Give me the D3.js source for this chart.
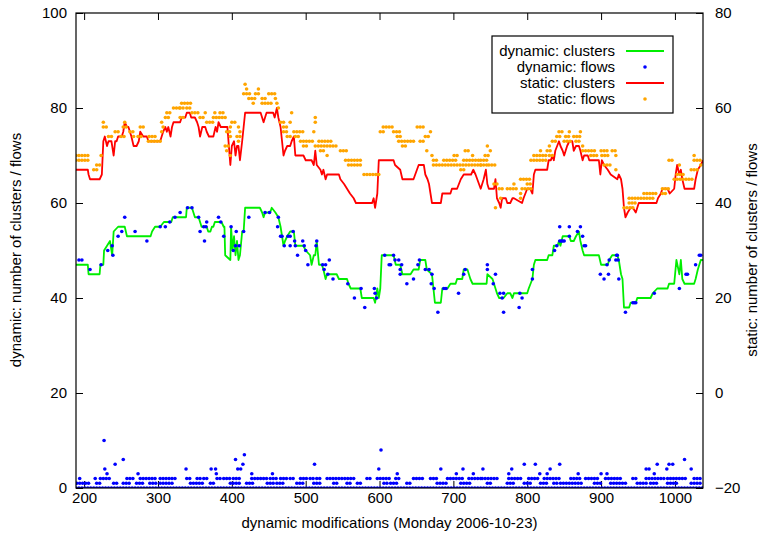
<!DOCTYPE html>
<html>
<head>
<meta charset="utf-8">
<script src="https://cdn.jsdelivr.net/npm/d3@7"></script>
<style>
  body { margin: 0; background: #fff; }
  text { font-family: "Liberation Sans", Arial, sans-serif; font-size: 15px; fill: #000; }
</style>
</head>
<body>
<div id="chart"></div>
<script>
/* Clusters and flows over the dynamic modifications of one day, gnuplot look. */

const xTicks = [200, 300, 400, 500, 600, 700, 800, 900, 1000];
const yTicks = [0, 20, 40, 60, 80, 100];
const y2Ticks = [-20, 0, 20, 40, 60, 80];

// dynamic clusters, [modification, clusters] (left axis)
const dynClusters = [
  [189,47],[205,47],[206,45],[221,45],[222,47],[226,47],[227,50],[231,51],[235,52],[238,49],[240,54],
  [246,55],[255,55],[258,53],[290,53],[292,54],[296,55],[303,55],[308,56],[318,56],[320,57],[338,57],
  [339,59],[346,59],[348,58],[350,57],[355,57],[357,56],[359,55],[366,55],[368,54],[371,54],[373,55],
  [375,55],[377,56],[386,56],[389,55],[390,55],[391,49],[398,48],[399,55],[401,50],[403,53],[405,49],
  [407,52],[409,48],[411,49],[414,54],[416,54],[418,59],[438,59],[441,58],[443,57],[445,58],[452,58],
  [454,59],[459,58],[463,57],[466,55],[468,53],[470,51],[472,52],[475,53],[479,54],[484,54],[486,51],
  [488,51],[497,51],[500,50],[506,49],[508,47],[511,49],[513,49],[515,52],[518,47],[522,47],[524,46],
  [527,44],[529,45],[531,45],[542,45],[545,44],[547,44],[556,44],[558,43],[561,42],[574,42],[576,40],
  [592,40],[594,39],[597,42],[599,40],[601,42],[603,49],[619,49],[622,47],[628,47],[631,45],[642,45],
  [646,46],[653,46],[655,48],[662,48],[664,46],[671,45],[673,42],[675,39],[683,39],[685,42],[692,42],
  [696,43],[703,43],[705,44],[712,44],[714,46],[719,46],[723,44],[726,43],[745,43],[746,45],[753,44],
  [755,43],[759,41],[762,40],[768,40],[773,41],[777,41],[780,40],[782,41],[800,41],[802,42],[807,44],
  [809,47],[811,48],[827,48],[829,49],[834,49],[836,51],[841,51],[843,52],[845,51],[848,53],[857,53],
  [859,52],[863,52],[866,53],[870,54],[872,52],[875,50],[877,49],[897,49],[900,47],[909,47],[911,48],
  [915,49],[922,49],[924,48],[927,45],[929,44],[931,38],[938,38],[940,39],[947,39],[949,40],[967,40],
  [970,41],[976,42],[990,42],[992,43],[999,43],[1002,48],[1006,45],[1008,48],[1010,44],[1013,43],
  [1026,43],[1028,44],[1031,46],[1035,48],[1038,48]
];

// dynamic flows lying near the cluster curve, [modification, flows]
const dynFlowsHigh = [
  [193,48],[197,48],[208,46],[223,47],[232,50],[238,51],[239,49],[246,53],[251,54],[255,57],[269,54],
  [285,52],[303,55],[310,55],[316,56],[323,57],[330,58],[340,59],[346,59],[355,57],[357,54],[362,55],
  [365,55],[366,56],[363,52],[382,57],[385,56],[389,53],[399,55],[402,50],[405,51],[406,54],[410,51],
  [416,54],[423,57],[445,58],[451,58],[463,57],[462,55],[466,53],[468,53],[471,51],[476,53],[479,53],
  [483,54],[485,52],[486,51],[479,51],[489,49],[496,52],[498,51],[500,50],[503,47],[514,51],[515,52],
  [523,47],[525,46],[527,47],[532,48],[530,45],[537,44],[557,43],[566,40],[575,42],[580,38],[593,42],
  [594,41],[596,40],[607,49],[613,47],[615,47],[619,49],[621,48],[626,48],[628,46],[630,47],[628,45],
  [637,43],[646,44],[652,47],[654,48],[662,46],[667,46],[670,43],[671,45],[674,42],[679,37],[687,42],
  [690,42],[707,41],[714,45],[716,46],[746,47],[746,46],[757,45],[754,43],[763,41],[766,40],[768,41],
  [768,37],[789,38],[790,41],[793,40],[807,44],[807,46],[837,50],[840,51],[844,52],[846,52],[848,52],
  [850,52],[844,55],[857,53],[857,55],[868,54],[872,55],[875,53],[877,51],[879,51],[899,45],[904,44],
  [908,47],[910,45],[911,48],[920,48],[921,49],[922,49],[923,48],[924,44],[943,39],[945,39],[947,39],
  [933,37],[972,41],[1006,42],[1015,45],[1017,45],[1028,47],[1033,49],[1035,49]
];

// dynamic flows near the bottom: runs [from, to, flows] sampled every 4 modifications
const dynFlowRuns = [
  [189,1037,0],
  [190,208,1],[217,222,1],[240,244,1],[253,262,1],[271,280,1],[289,298,1],[303,321,1],[344,362,1],
  [371,375,1],[398,411,1],[420,429,1],[448,457,1],[461,470,1],[488,497,1],[511,520,1],[538,543,1],
  [556,561,1],[570,574,1],[606,610,1],[615,624,1],[637,642,1],[678,692,1],[710,723,1],[746,750,1],
  [773,782,1],[796,805,1],[818,827,1],[836,841,1],[845,873,1],[891,900,1],[913,936,1],[949,963,1],
  [967,976,1],[990,1003,1],[1022,1035,1],
  [194,194,2],[215,215,2],[222,235,2],[258,267,2],[276,298,2],[303,326,2],[339,344,2],[353,357,2],
  [362,366,2],[380,384,2],[389,398,2],[402,411,2],[427,448,2],[452,461,2],[466,475,2],[479,484,2],
  [493,502,2],[506,511,2],[515,520,2],[529,565,2],[583,590,2],[597,615,2],[622,628,2],[646,660,2],
  [669,678,2],[692,712,2],[721,737,2],[739,762,2],[775,791,2],[802,816,2],[823,845,2],[859,873,2],
  [879,895,2],[906,918,2],[922,929,2],[943,949,2],[961,985,2],[990,1015,2],[1026,1037,2]
];

// isolated larger dynamic flow counts near the bottom
const dynFlowsPeaks = [
  [227,10],[228,4],[231,3],[242,5],[253,6],[273,3],[338,4],[372,4],[378,4],[379,3],[405,6],[408,4],
  [412,4],[415,5],[417,7],[427,3],[455,3],[512,5],[599,4],[602,8],[624,3],[683,4],[704,3],[713,4],
  [727,3],[740,4],[775,3],[779,4],[796,5],[811,5],[817,3],[827,3],[831,4],[844,5],[869,3],[900,3],
  [908,3],[961,4],[965,4],[972,3],[976,5],[989,4],[992,5],[997,5],[1013,6],[1022,4]
];

// static clusters, [modification, clusters] (right axis)
const statClusters = [
  [189,47],[205,47],[206,46],[208,45],[221,45],[224,46],[226,53],[228,54],[231,52],[233,53],[237,53],
  [240,50],[242,53],[244,53],[246,54],[251,54],[253,55],[255,57],[258,56],[260,56],[264,54],[267,52],
  [271,52],[274,53],[276,55],[280,54],[285,54],[287,53],[303,53],[305,54],[307,55],[310,56],[312,55],
  [314,56],[317,54],[319,56],[321,57],[330,57],[332,58],[337,58],[339,59],[343,59],[345,58],[350,58],
  [353,57],[355,56],[357,54],[360,56],[364,56],[366,55],[369,54],[375,54],[378,56],[380,55],[382,57],
  [385,56],[394,56],[396,52],[398,48],[400,52],[403,53],[405,50],[407,52],[409,52],[411,49],[414,53],
  [416,56],[418,59],[439,59],[441,58],[443,57],[445,58],[447,59],[456,59],[458,58],[461,60],[463,58],
  [466,56],[468,53],[470,50],[472,51],[475,52],[479,52],[481,53],[484,54],[486,50],[488,50],[497,50],
  [500,49],[508,49],[511,48],[513,51],[515,48],[520,47],[522,46],[524,47],[527,45],[529,46],[531,46],
  [545,46],[547,45],[552,44],[556,43],[560,42],[565,41],[568,40],[590,40],[592,41],[594,39],[597,42],
  [599,49],[619,49],[621,48],[628,47],[631,45],[646,45],[653,48],[660,48],[662,46],[665,45],[667,44],
  [669,42],[671,40],[683,40],[685,42],[696,42],[698,43],[705,43],[710,45],[714,46],[724,46],[727,47],
  [730,46],[737,43],[741,45],[744,47],[746,44],[748,43],[755,43],[757,45],[759,41],[762,40],[764,39],
  [766,41],[771,41],[773,40],[777,40],[780,41],[782,41],[793,40],[795,41],[800,43],[804,43],[807,42],
  [809,46],[811,47],[827,47],[829,49],[832,49],[834,50],[836,49],[838,51],[843,53],[845,52],[848,51],
  [850,50],[854,52],[857,53],[861,53],[863,51],[866,52],[870,52],[872,51],[875,49],[877,50],[882,50],
  [884,49],[887,49],[897,49],[899,46],[901,49],[904,48],[909,47],[913,46],[922,45],[924,46],[927,45],
  [929,43],[931,39],[933,37],[936,38],[940,39],[943,39],[947,38],[949,39],[951,40],[975,40],[977,41],
  [981,42],[983,43],[990,43],[993,42],[999,43],[1001,46],[1003,48],[1006,46],[1008,47],[1010,45],
  [1013,43],[1026,43],[1028,45],[1031,47],[1035,48],[1038,49]
];

// static flows: runs [from, to, flows] sampled every 4 modifications (right axis)
const statFlowRuns = [
  [189,208,50],[223,224,50],[189,197,49],[201,208,49],[217,224,48],[213,217,47],
  [226,226,57],[255,255,57],[305,307,57],[226,232,56],[253,258,56],[276,282,56],[307,307,56],
  [242,248,55],[262,266,55],[305,305,55],[233,240,54],[250,255,54],[267,269,54],[273,278,54],
  [288,296,54],[287,303,53],[310,314,58],[312,316,59],[321,330,60],
  [332,346,61],[330,335,60],[339,346,60],[346,357,59],[364,366,59],[377,380,59],[384,389,59],
  [330,335,58],[357,362,58],[375,391,58],[366,377,57],[400,405,57],[398,398,56],[409,409,56],
  [393,398,55],[411,414,55],[398,398,54],[407,411,54],[409,409,53],[391,398,52],[393,393,51],
  [398,398,50],[418,418,65],[420,420,64],[436,438,64],[416,427,63],[432,438,63],[450,459,63],
  [423,432,62],[441,447,62],[459,459,62],[429,432,61],[441,454,61],[461,461,61],[463,466,60],
  [481,484,59],[513,515,58],[466,470,57],[479,479,57],[513,513,57],[470,475,56],[470,477,55],
  [484,497,55],[511,511,55],[475,479,54],[486,490,54],[493,511,53],[518,536,53],[497,502,52],
  [513,542,52],[520,524,51],[547,556,51],[529,529,50],[554,576,49],[558,576,48],[579,601,46],
  [605,619,56],[651,660,56],[601,606,55],[619,628,55],[669,669,55],[624,631,54],[662,667,54],
  [626,646,53],[655,662,53],[631,637,52],[664,664,51],[716,721,51],[671,671,50],[701,705,50],
  [726,726,50],[673,678,49],[687,705,49],[714,737,49],[673,737,48],[710,714,47],
  [737,746,49],[805,827,49],[737,746,48],[748,759,48],[904,915,48],[1035,1035,48],[743,748,50],
  [809,827,50],[830,834,50],[886,897,50],[901,909,50],[920,920,50],[1026,1026,50],[746,746,52],
  [830,830,52],[875,875,52],[750,753,51],[818,818,51],[827,834,51],[875,893,51],[900,909,51],
  [915,920,51],[755,762,44],[782,782,44],[800,807,44],[762,769,43],[773,787,43],[793,805,43],
  [983,992,43],[791,791,42],[958,976,42],[983,990,42],[791,805,45],[999,1026,45],[757,757,39],
  [931,945,39],[764,764,41],[791,791,41],[938,972,41],[938,947,40],[834,838,53],[850,861,53],
  [866,872,53],[840,845,54],[852,859,54],[863,872,54],[843,848,55],[857,857,55],[872,872,55],
  [992,997,49],[1026,1037,49],[920,920,47],[1022,1031,47],[1003,1012,46],[1006,1006,48]
];

const width = 759, height = 535,
      margin = ({top: 13, right: 56, bottom: 47, left: 76});

const svg = d3.select("#chart")
  .append("svg")
  .attr("width", width)
  .attr("height", height)
  .attr("viewBox", [0, 0, width, height]);

const x = d3.scaleLinear()
  .domain([189, 1038])
  .range([margin.left, width - margin.right]);

const y = d3.scaleLinear()
  .domain([0, 100])
  .range([height - margin.bottom, margin.top]);

const y2 = d3.scaleLinear()
  .domain([-20, 80])
  .range([height - margin.bottom, margin.top]);

svg.append("clipPath").attr("id", "plot")
  .append("rect")
  .attr("x", margin.left).attr("y", margin.top)
  .attr("width", width - margin.left - margin.right)
  .attr("height", height - margin.top - margin.bottom);

// ticks point inwards, as gnuplot draws them
const axes = [
  [d3.axisBottom(x).tickValues(xTicks).tickSize(-7).tickPadding(4).tickFormat(d3.format("d")), `translate(0,${height - margin.bottom})`],
  [d3.axisTop(x).tickValues(xTicks).tickSize(-7).tickFormat(""), `translate(0,${margin.top})`],
  [d3.axisLeft(y).tickValues(yTicks).tickSize(-7).tickPadding(9), `translate(${margin.left},0)`],
  [d3.axisRight(y2).tickValues(y2Ticks).tickSize(-7).tickPadding(12), `translate(${width - margin.right},0)`]
];
for (const [axis, tr] of axes) {
  const g = svg.append("g").attr("transform", tr).call(axis);
  g.select(".domain").remove();
  g.selectAll(".tick line").attr("stroke", "#000");
  g.selectAll("text").attr("font-size", 15).attr("font-family", null).attr("fill", "#000");
}

const plot = svg.append("g").attr("clip-path", "url(#plot)");

const runDots = runs => runs.flatMap(r => d3.range(r[0], r[1] + 1, 4).map(v => [v, r[2]]));

// dynamic: clusters
plot.append("path")
  .datum(dynClusters)
  .attr("fill", "none")
  .attr("stroke", "#00ee00")
  .attr("stroke-width", 1.8)
  .attr("stroke-linejoin", "round")
  .attr("d", d3.line().x(d => x(d[0])).y(d => y(d[1])));

// dynamic: flows
plot.append("g")
  .attr("fill", "#0000ff")
  .selectAll("circle")
  .data(runDots(dynFlowRuns).concat(dynFlowsPeaks, dynFlowsHigh))
  .join("circle")
  .attr("cx", d => x(d[0]))
  .attr("cy", d => y(d[1]))
  .attr("r", 1.8);

// static: clusters
plot.append("path")
  .datum(statClusters)
  .attr("fill", "none")
  .attr("stroke", "#ff0000")
  .attr("stroke-width", 1.8)
  .attr("stroke-linejoin", "round")
  .attr("d", d3.line().x(d => x(d[0])).y(d => y2(d[1])));

// static: flows
plot.append("g")
  .attr("fill", "#ffa500")
  .selectAll("circle")
  .data(runDots(statFlowRuns))
  .join("circle")
  .attr("cx", d => x(d[0]))
  .attr("cy", d => y2(d[1]))
  .attr("r", 1.8);

// frame
svg.append("rect")
  .attr("x", margin.left).attr("y", margin.top)
  .attr("width", width - margin.left - margin.right)
  .attr("height", height - margin.top - margin.bottom)
  .attr("fill", "none")
  .attr("stroke", "#000")
  .attr("stroke-width", 1.2);

// axis titles
svg.append("text")
  .attr("x", (margin.left + width - margin.right) / 2)
  .attr("y", 528)
  .attr("text-anchor", "middle")
  .text("dynamic modifications (Monday 2006-10-23)");

svg.append("text")
  .attr("transform", "translate(21,250) rotate(-90)")
  .attr("text-anchor", "middle")
  .text("dynamic: number of clusters / flows");

svg.append("text")
  .attr("transform", "translate(757,250) rotate(-90)")
  .attr("text-anchor", "middle")
  .text("static: number of clusters / flows");

// legend
const legendItems = [
  {label: "dynamic: clusters", color: "#00ee00", kind: "line"},
  {label: "dynamic: flows", color: "#0000ff", kind: "dot"},
  {label: "static: clusters", color: "#ff0000", kind: "line"},
  {label: "static: flows", color: "#ffa500", kind: "dot"}
];

svg.append("rect")
  .attr("x", 492).attr("y", 36)
  .attr("width", 181).attr("height", 77)
  .attr("fill", "#fff")
  .attr("stroke", "#000")
  .attr("stroke-width", 1.2);

const item = svg.selectAll(".legend")
  .data(legendItems)
  .join("g")
  .attr("class", "legend")
  .attr("transform", (d, i) => `translate(0,${51 + i * 16})`);

item.append("text")
  .attr("x", 615)
  .attr("dy", "0.35em")
  .attr("font-size", 14)
  .attr("text-anchor", "end")
  .text(d => d.label);

item.filter(d => d.kind === "line").append("line")
  .attr("x1", 626).attr("x2", 664)
  .attr("stroke", d => d.color)
  .attr("stroke-width", 1.8);

item.filter(d => d.kind === "dot").append("circle")
  .attr("cx", 645)
  .attr("r", 1.8)
  .attr("fill", d => d.color);
</script>
</body>
</html>
